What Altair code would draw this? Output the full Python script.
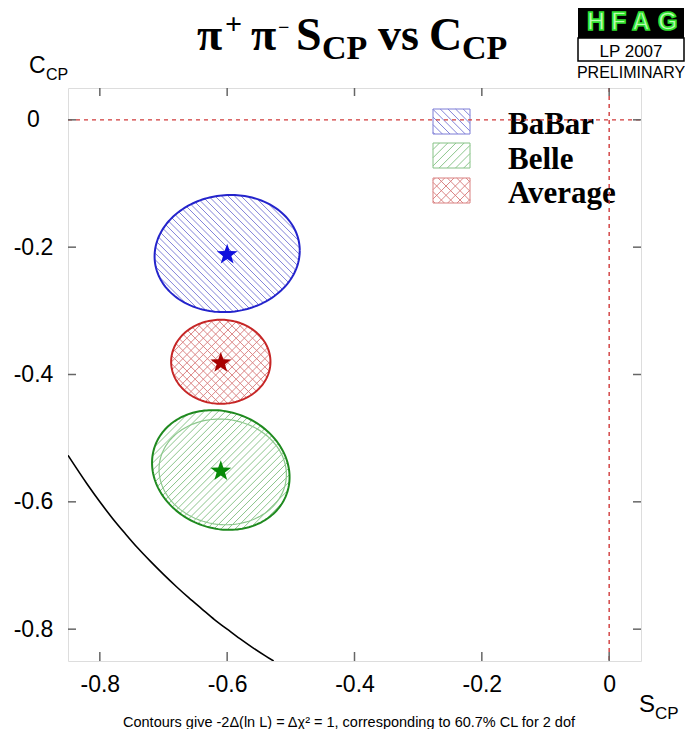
import altair as alt
import numpy as np
import pandas as pd

# ---------------- data ----------------
names = ["BaBar", "Belle", "Average"]
S_central = [-0.60, -0.61, -0.61]
C_central = [-0.21, -0.55, -0.38]
S_sigma = [0.114, 0.108, 0.078]
C_sigma = [0.092, 0.094, 0.066]
rho = [0.05, -0.12, 0.0]

# faint second Belle contour visible in the reference
belle2_S, belle2_C, belle2_sS, belle2_sC, belle2_rho = -0.607, -0.553, 0.100, 0.083, -0.05

# physical boundary (black curve)
bound_S = [-0.85, -0.82, -0.80, -0.78, -0.76, -0.74, -0.72, -0.70, -0.68,
           -0.66, -0.64, -0.62, -0.60, -0.58, -0.56, -0.54, -0.527]
bound_C = [-0.527, -0.572, -0.600, -0.626, -0.650, -0.673, -0.694, -0.714, -0.733,
           -0.751, -0.768, -0.785, -0.800, -0.815, -0.829, -0.842, -0.850]

x_ticks = [-0.8, -0.6, -0.4, -0.2, 0.0]
y_ticks = [0.0, -0.2, -0.4, -0.6, -0.8]

# ---------------- styling ----------------
line_colors = ["#2424cc", "#1f8a1f", "#c62626"]
hatch_colors = ["#7c7cd6", "#86c286", "#d98080"]
star_colors = ["#1010dd", "#078a07", "#a80000"]
hatch_dirs = [["back"], ["fwd"], ["back", "fwd"]]
hatch_space = [4.6, 5.0, 5.8]

W = H = 573
XD = [-0.85, 0.05]
YD = [-0.85, 0.05]
KX = W / (XD[1] - XD[0])
KY = H / (YD[1] - YD[0])
OX, OY = 68, 88  # absolute position of the plot origin


def px(s):
    return (s - XD[0]) * KX


def py(c):
    return (YD[1] - c) * KY


def to_S(x):
    return XD[0] + x / KX


def to_C(y):
    return YD[1] - y / KY


DIRS = {"back": np.array([1.0, 1.0]) / np.sqrt(2), "fwd": np.array([1.0, -1.0]) / np.sqrt(2)}


def cov_of(sS, sC, r):
    return np.array([[sS ** 2, r * sS * sC], [r * sS * sC, sC ** 2]])


def ellipse_chords(S0, C0, sS, sC, r, direction, spacing):
    J = np.diag([KX, -KY])
    P = J @ cov_of(sS, sC, r) @ J
    Pi = np.linalg.inv(P)
    c = np.array([px(S0), py(C0)])
    u = DIRS[direction]
    n = np.array([-u[1], u[0]])
    ext = np.sqrt(n @ P @ n)
    d0 = n @ c
    out = []
    for k in range(int(np.ceil((d0 - ext) / spacing)), int(np.floor((d0 + ext) / spacing)) + 1):
        q = (k * spacing - d0) * n
        a = u @ Pi @ u
        b = 2 * (u @ Pi @ q)
        cc = q @ Pi @ q - 1
        disc = b * b - 4 * a * cc
        if disc <= 0:
            continue
        t1 = (-b - np.sqrt(disc)) / (2 * a)
        t2 = (-b + np.sqrt(disc)) / (2 * a)
        out.append((c + q + t1 * u, c + q + t2 * u))
    return out


def rect_chords(x0, y0, x1, y1, direction, spacing):
    u = DIRS[direction]
    n = np.array([-u[1], u[0]])
    corners = np.array([[x0, y0], [x1, y0], [x0, y1], [x1, y1]])
    ds = corners @ n
    out = []
    for k in range(int(np.ceil(ds.min() / spacing)), int(np.floor(ds.max() / spacing)) + 1):
        p0 = k * spacing * n
        tlo, thi = -1e9, 1e9
        for i, (lo, hi) in enumerate([(x0, x1), (y0, y1)]):
            if abs(u[i]) < 1e-12:
                continue
            ta, tb = (lo - p0[i]) / u[i], (hi - p0[i]) / u[i]
            tlo, thi = max(tlo, min(ta, tb)), min(thi, max(ta, tb))
        if thi - tlo > 0.5:
            out.append((p0 + tlo * u, p0 + thi * u))
    return out


# ---------------- build tables ----------------
hatch_rows = []
outline_rows = []
star_rows = []
t = np.linspace(0, 2 * np.pi, 181)
for i, nm in enumerate(names):
    for d in hatch_dirs[i]:
        for p1, p2 in ellipse_chords(S_central[i], C_central[i], S_sigma[i], C_sigma[i], rho[i], d, hatch_space[i]):
            hatch_rows.append(dict(S=to_S(p1[0]), C=to_C(p1[1]), S2=to_S(p2[0]), C2=to_C(p2[1]), col=hatch_colors[i]))
    Ss = S_central[i] + S_sigma[i] * np.cos(t)
    Cs = C_central[i] + C_sigma[i] * (rho[i] * np.cos(t) + np.sqrt(1 - rho[i] ** 2) * np.sin(t))
    for j in range(len(t)):
        outline_rows.append(dict(S=Ss[j], C=Cs[j], k=j, grp=nm, col=line_colors[i], w=2.0))
    star_rows.append(dict(S=S_central[i], C=C_central[i], col=star_colors[i]))

Ss = belle2_S + belle2_sS * np.cos(t)
Cs = belle2_C + belle2_sC * (belle2_rho * np.cos(t) + np.sqrt(1 - belle2_rho ** 2) * np.sin(t))
for j in range(len(t)):
    outline_rows.append(dict(S=Ss[j], C=Cs[j], k=j, grp="Belle2", col="#8cc88c", w=1.2))

# legend boxes (pixel layout relative to plot origin)
leg_x0, leg_x1 = 433 - OX, 470 - OX
leg_tops = [109 - OY, 143 - OY, 178 - OY]
leg_h = 25
leg_base = [134, 169, 203]
legbox_rows = []
for i in range(3):
    y0, y1 = leg_tops[i], leg_tops[i] + leg_h
    for d in hatch_dirs[i]:
        for p1, p2 in rect_chords(leg_x0, y0, leg_x1, y1, d, hatch_space[i] + 0.8):
            hatch_rows.append(dict(S=to_S(p1[0]), C=to_C(p1[1]), S2=to_S(p2[0]), C2=to_C(p2[1]), col=hatch_colors[i]))
    legbox_rows.append(dict(S=to_S(leg_x0), C=to_C(y0), S2=to_S(leg_x1), C2=to_C(y1), col=hatch_colors[i]))

hatch_df = pd.DataFrame(hatch_rows)
outline_df = pd.DataFrame(outline_rows)
star_df = pd.DataFrame(star_rows)
legbox_df = pd.DataFrame(legbox_rows)
bound_df = pd.DataFrame({"S": bound_S, "C": bound_C})
xt_df = pd.DataFrame({"S": x_ticks})
yt_df = pd.DataFrame({"C": y_ticks})
one = pd.DataFrame({"a": [0]})

# ---------------- encodings ----------------
label_expr = "datum.value == 0 ? '0' : '-' + format(abs(datum.value), '.1f')"
xaxis = alt.Axis(values=x_ticks, tickSize=0, domain=False, grid=False, title=None,
                 labelFont="Liberation Sans", labelFontSize=23, labelColor="black",
                 labelPadding=12, labelExpr=label_expr)
yaxis = alt.Axis(values=y_ticks, tickSize=0, domain=False, grid=False, title=None,
                 labelFont="Liberation Sans", labelFontSize=23, labelColor="black",
                 labelPadding=35, labelAlign="center", labelExpr=label_expr)
xs = alt.Scale(domain=XD, nice=False, zero=False)
ys = alt.Scale(domain=YD, nice=False, zero=False)


def X(f="S"):
    return alt.X(f + ":Q", scale=xs, axis=xaxis)


def Y(f="C"):
    return alt.Y(f + ":Q", scale=ys, axis=yaxis)


col = alt.Color("col:N", scale=None)

hatch = alt.Chart(hatch_df).mark_rule(strokeWidth=1, opacity=0.95).encode(
    x=X(), y=Y(), x2="S2:Q", y2="C2:Q", color=col)

outline = alt.Chart(outline_df).mark_line().encode(
    x=X(), y=Y(), order="k:Q", detail="grp:N", color=col,
    strokeWidth=alt.StrokeWidth("w:Q", scale=None))

boundary = alt.Chart(bound_df).mark_line(color="black", strokeWidth=1.6, interpolate="monotone", clip=True).encode(
    x=X(), y=Y())

# five-pointed star glyph in the unit square
pts = []
for k in range(10):
    a = -np.pi / 2 + k * np.pi / 5
    r = 1.0 if k % 2 == 0 else 0.4
    pts.append(f"{r*np.cos(a):.3f},{r*np.sin(a)+0.1:.3f}")
star_path = "M" + "L".join(pts) + "Z"

stars = alt.Chart(star_df).mark_point(shape=star_path, filled=True, size=480, opacity=1).encode(
    x=X(), y=Y(), color=col)

legboxes = alt.Chart(legbox_df).mark_rect(fill=None, strokeWidth=1).encode(
    x=X(), y=Y(), x2="S2:Q", y2="C2:Q", stroke=alt.Stroke("col:N", scale=None))

zero_h = alt.Chart(pd.DataFrame({"C": [0.0]})).mark_rule(color="#d03a3a", strokeWidth=1.4, strokeDash=[4, 4]).encode(
    y=Y(), x=alt.value(0), x2=alt.value(W))
zero_v = alt.Chart(pd.DataFrame({"S": [0.0]})).mark_rule(color="#d03a3a", strokeWidth=1.4, strokeDash=[4, 4]).encode(
    x=X(), y=alt.value(0), y2=alt.value(H))

tick_style = dict(color="#666666", strokeWidth=1.5)
ticks = [
    alt.Chart(xt_df).mark_rule(**tick_style).encode(x=X(), y=alt.value(H), y2=alt.value(H - 9)),
    alt.Chart(xt_df).mark_rule(**tick_style).encode(x=X(), y=alt.value(0), y2=alt.value(8)),
    alt.Chart(yt_df).mark_rule(**tick_style).encode(y=Y(), x=alt.value(0), x2=alt.value(8)),
    alt.Chart(yt_df).mark_rule(**tick_style).encode(y=Y(), x=alt.value(W), x2=alt.value(W - 8)),
]


def txt(text, ax, ay, size, font="Liberation Sans", weight="normal", color="black", align="left", **kw):
    return alt.Chart(one).mark_text(text=text, font=font, fontSize=size, fontWeight=weight, color=color,
                                    align=align, baseline="alphabetic", **kw).encode(
        x=alt.value(ax - OX), y=alt.value(ay - OY))


def box(x0, y0, x1, y1, **kw):
    return alt.Chart(one).mark_rect(**kw).encode(
        x=alt.value(x0 - OX), x2=alt.value(x1 - OX), y=alt.value(y0 - OY), y2=alt.value(y1 - OY))


legend_texts = [txt(nm, 508, leg_base[i], 31, font="Liberation Serif", weight="bold") for i, nm in enumerate(names)]

texts = []
SER = "Liberation Serif"
title_pieces = [
    ("π", 197, 50, 46), ("+", 225, 34, 30), ("π", 251, 50, 46), ("−", 278, 34, 20),
    ("S", 296, 50, 46), ("CP", 322, 59, 34), ("vs", 378, 50, 46),
    ("C", 429, 50, 46), ("CP", 462, 59, 34),
]
for s, ax, ay, sz in title_pieces:
    texts.append(txt(s, ax, ay, sz, font=SER, weight="bold"))

# axis titles
texts += [
    txt("C", 29, 73, 23), txt("CP", 46, 80, 16),
    txt("S", 639, 712, 24), txt("CP", 655, 719, 17),
]
# footnote
texts.append(txt("Contours give -2Δ(ln L) = Δχ² = 1, corresponding to 60.7% CL for 2 dof", 349, 727, 14.5, align="center"))

# HFAG logo
logo = [
    box(578, 3, 684, 38, fill="black"),
    box(578, 38, 684, 61, fill="white", stroke="black", strokeWidth=1.5),
]
for letter, lx in zip(["H", "F", "A", "G"], [587, 611, 632, 658]):
    logo.append(txt(letter, lx, 30, 25, weight="bold", color="#b8ffb0", stroke="#2ee02e", strokeWidth=1.6))
logo.append(txt("LP 2007", 631, 57, 17, align="center"))
logo.append(txt("PRELIMINARY", 631, 78, 16, align="center"))

chart = alt.layer(
    hatch, outline, boundary, stars, legboxes, *legend_texts, zero_h, zero_v, *ticks, *texts, *logo
).properties(
    width=W, height=H,
    padding={"left": 60, "top": 80, "right": 44, "bottom": 68},
    autosize=alt.AutoSizeParams(type="none"),
).configure_view(stroke="#777777", strokeWidth=1.5).configure(background="white")

chart.save("out.html", embed_options={"renderer": "svg", "actions": False})
